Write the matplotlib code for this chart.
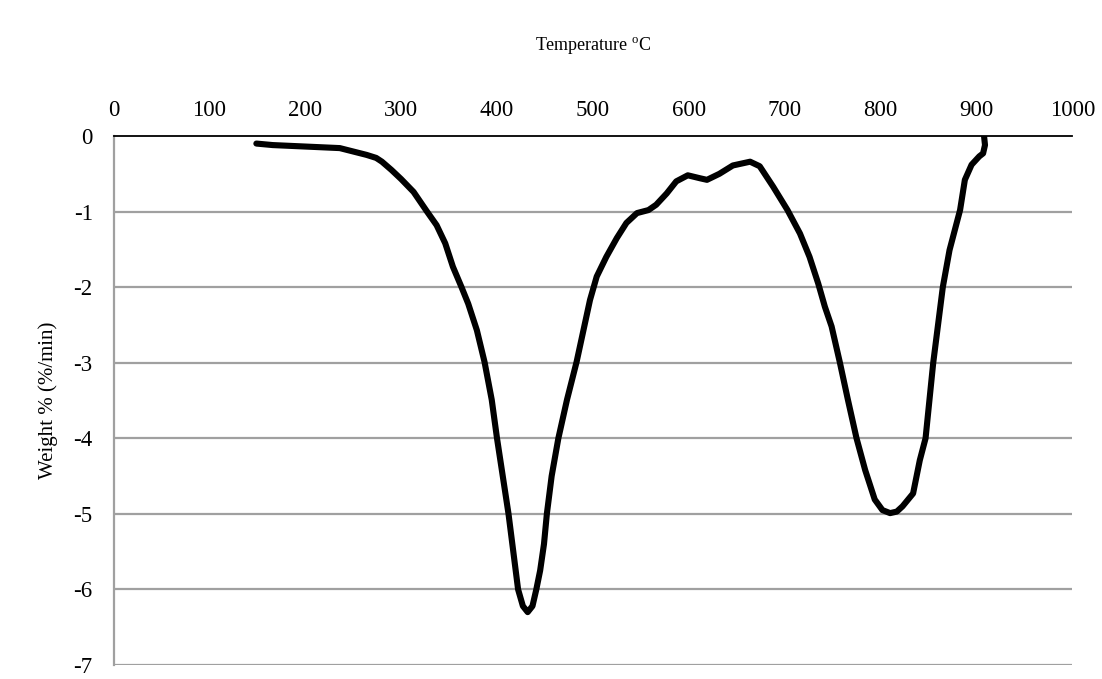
import matplotlib
matplotlib.use("Agg")
import matplotlib.pyplot as plt

plt.rcParams.update({
    "font.family": ["Liberation Serif", "DejaVu Serif"],
    "font.size": 16.5,
    "axes.unicode_minus": False,
})

# DTG curve (temperature in degC, weight loss rate in %/min)
temp = [149, 166, 201, 236, 264, 274, 280, 290, 300, 313, 327, 337, 346, 354,
        363, 370, 379, 387, 394.5, 400, 406, 412, 417, 422, 427, 432, 437,
        441, 445, 449, 452, 457, 464, 473, 483, 497, 504, 514, 525, 535, 546,
        558, 566, 577, 587, 599, 612, 619, 632, 646, 664, 674, 688, 703, 716,
        726, 735, 742, 749, 757.5, 766, 775, 784, 794, 802, 810, 817, 823,
        834, 841, 847, 855, 865, 872, 883, 888, 895, 903, 907, 909, 908]
rate = [-0.10, -0.12, -0.14, -0.16, -0.25, -0.29, -0.34, -0.45, -0.57, -0.74,
        -1.00, -1.18, -1.42, -1.73, -2.00, -2.22, -2.57, -2.99, -3.49, -4.00,
        -4.50, -5.00, -5.50, -6.00, -6.22, -6.30, -6.22, -6.00, -5.75, -5.40,
        -5.00, -4.50, -4.00, -3.49, -2.99, -2.17, -1.86, -1.60, -1.35, -1.15,
        -1.02, -0.98, -0.91, -0.76, -0.60, -0.52, -0.56, -0.58, -0.50, -0.39,
        -0.34, -0.40, -0.67, -0.98, -1.29, -1.60, -1.95, -2.26, -2.52, -2.99,
        -3.49, -4.00, -4.42, -4.81, -4.95, -4.99, -4.97, -4.90, -4.73, -4.29,
        -4.00, -3.00, -2.00, -1.51, -0.98, -0.58, -0.38, -0.27, -0.23, -0.12, 0.0]

x_ticks = [0, 100, 200, 300, 400, 500, 600, 700, 800, 900, 1000]
y_ticks = [0, -1, -2, -3, -4, -5, -6, -7]

fig = plt.figure(figsize=(11.02, 6.79), dpi=100)
ax = fig.add_axes([0.103, 0.0206, 0.870, 0.7791])

ax.plot(temp, rate, color="black", lw=4.4, solid_capstyle="round",
        solid_joinstyle="round", zorder=3)

ax.set_xlim(0, 1000)
ax.set_ylim(-7, 0)
ax.set_xticks(x_ticks)
ax.set_yticks(y_ticks)
ax.xaxis.tick_top()
ax.xaxis.set_label_position("top")
ax.tick_params(length=0)
ax.tick_params(axis="x", pad=11)
ax.tick_params(axis="y", pad=15)

for y in y_ticks[1:]:
    ax.axhline(y, color="#a0a0a0", lw=1.6, zorder=1)

ax.spines["top"].set_color("black")
ax.spines["top"].set_linewidth(1.3)
ax.spines["left"].set_color("#a0a0a0")
ax.spines["left"].set_linewidth(1.6)
ax.spines["right"].set_visible(False)
ax.spines["bottom"].set_visible(False)

ax.set_xlabel("Temperature $^{\\mathregular{o}}$C", fontsize=13, labelpad=35)
ax.set_ylabel("Weight % (%/min)", fontsize=15, labelpad=11)

fig.savefig("out.png", dpi=100)
